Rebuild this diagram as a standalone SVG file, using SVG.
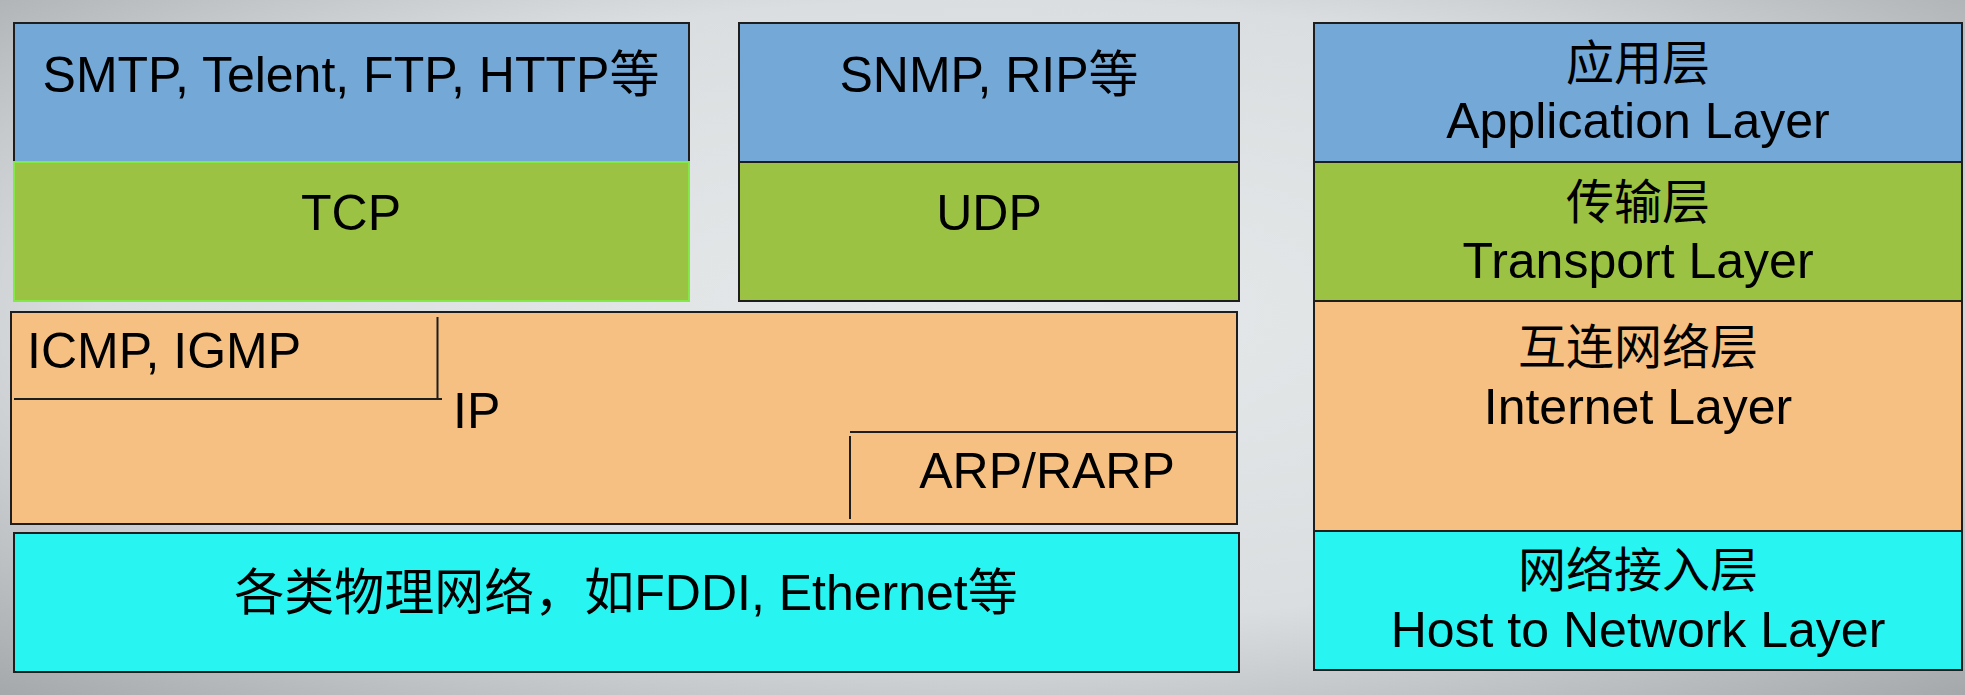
<svg xmlns="http://www.w3.org/2000/svg" width="1965" height="695" viewBox="0 0 1965 695">
  <defs>
    <radialGradient id="bg" cx="50%" cy="45%" r="75%">
      <stop offset="0" stop-color="#e6e9ea"/>
      <stop offset="0.6" stop-color="#dadee0"/>
      <stop offset="1" stop-color="#a4a7a9"/>
    </radialGradient>
  </defs>
  <style>
    .t { font-family: "Liberation Sans", "Noto Sans CJK SC", sans-serif; font-size: 50px; fill: #000; text-anchor: middle; }
    .tl { font-family: "Liberation Sans", "Noto Sans CJK SC", sans-serif; font-size: 50px; fill: #000; }
    .cjk { font-family: "Noto Sans CJK SC", sans-serif; font-size: 48px; fill: #000; text-anchor: middle; }
    .app { fill: #73a8d7; stroke: #1e1e1e; stroke-width: 2; }
    .tra { fill: #9bc242; stroke: #1e1e1e; stroke-width: 2; }
    .tra2 { fill: #9bc242; stroke: #86e846; stroke-width: 2; }
    .net { fill: #f5c081; stroke: #1e1e1e; stroke-width: 2; }
    .phy { fill: #28f4f1; stroke: #1e1e1e; stroke-width: 2; }
    .ln { stroke: #1e1e1e; stroke-width: 2; fill: none; }
  </style>
  <rect x="0" y="0" width="1965" height="695" fill="url(#bg)"/>

  <g id="smtp">
    <rect class="app" x="14" y="23" width="675" height="139"/>
    <text class="t" x="351" y="92">SMTP, Telent, FTP, HTTP等</text>
  </g>
  <g id="tcp">
    <rect class="tra2" x="14" y="162" width="675" height="139"/>
    <text class="t" x="351" y="230">TCP</text>
  </g>

  <g id="snmp">
    <rect class="app" x="739" y="23" width="500" height="139"/>
    <text class="t" x="989" y="92">SNMP, RIP等</text>
  </g>
  <g id="udp">
    <rect class="tra" x="739" y="162" width="500" height="139"/>
    <text class="t" x="989" y="230">UDP</text>
  </g>

  <g id="ip">
    <rect class="net" x="11" y="312" width="1226" height="212"/>
    <path class="ln" d="M437.5 317 V399 M14 399 H442"/>
    <text class="tl" x="27" y="368">ICMP, IGMP</text>
    <text class="tl" x="453" y="428">IP</text>
    <path class="ln" d="M850 432 H1237 M850 436 V519"/>
    <text class="t" x="1047" y="488">ARP/RARP</text>
  </g>

  <g id="physical">
    <rect class="phy" x="14" y="533" width="1225" height="139"/>
    <text class="t" x="626" y="610">各类物理网络，如FDDI, Ethernet等</text>
  </g>

  <g id="app-layer">
    <rect class="app" x="1314" y="23" width="648" height="139"/>
    <text class="cjk" x="1638" y="80">应用层</text>
    <text class="t" x="1638" y="138">Application Layer</text>
  </g>
  <g id="transport-layer">
    <rect class="tra" x="1314" y="162" width="648" height="139"/>
    <text class="cjk" x="1638" y="219">传输层</text>
    <text class="t" x="1638" y="278">Transport Layer</text>
  </g>
  <g id="internet-layer">
    <rect class="net" x="1314" y="301" width="648" height="230"/>
    <text class="cjk" x="1638" y="364">互连网络层</text>
    <text class="t" x="1638" y="424">Internet Layer</text>
  </g>
  <g id="host-layer">
    <rect class="phy" x="1314" y="531" width="648" height="139"/>
    <text class="cjk" x="1638" y="587">网络接入层</text>
    <text class="t" x="1638" y="647">Host to Network Layer</text>
  </g>
</svg>
